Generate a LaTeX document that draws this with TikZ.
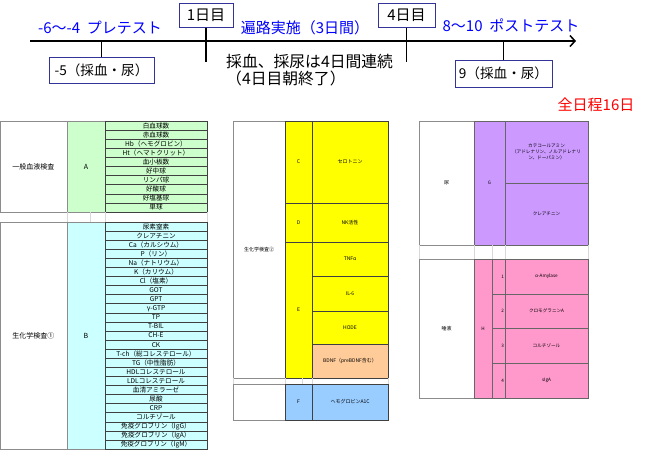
\documentclass[tikz,border=0pt]{standalone}
\usepackage{fontspec}
\setmainfont{Noto Sans CJK JP}
\usetikzlibrary{arrows.meta}
\definecolor{navy}{HTML}{333399}
\definecolor{tblue}{HTML}{0000FF}
\definecolor{tred}{HTML}{FF0000}
\definecolor{cgreen}{HTML}{CCFFCC}
\definecolor{ccyan}{HTML}{CCFFFF}
\definecolor{cyellow}{HTML}{FFFF00}
\definecolor{cpeach}{HTML}{FFCC99}
\definecolor{cblue}{HTML}{99CCFF}
\definecolor{cpurple}{HTML}{CC99FF}
\definecolor{cpink}{HTML}{FF99CC}
\definecolor{gridgrey}{HTML}{8C8C8C}
\definecolor{lightgrid}{HTML}{D8D8D8}
\definecolor{darkline}{HTML}{404040}
\newcommand{\cellbox}[7]{%
  \node[#6, minimum width={#4-#2}, minimum height={#5-#3}] (#1) at ({(#2+#4)/2},{(#3+#5)/2}) {#7};}
\tikzset{
  base/.style={inner sep=0pt, outer sep=0pt, rectangle, text=black},
  labL/.style={base, draw=gridgrey, line width=0.6pt, fill=white, font=\fontsize{7}{8}\selectfont},
  grpL/.style={base, draw=gridgrey, line width=0.6pt, font=\fontsize{7}{8}\selectfont},
  itemL/.style={base, draw=darkline, line width=0.5pt, font=\fontsize{6.6}{7}\selectfont},
  labM/.style={base, draw=gridgrey, line width=0.6pt, fill=white, font=\fontsize{5}{6}\selectfont},
  cellM/.style={base, draw=darkline, line width=0.5pt, font=\fontsize{5}{6}\selectfont},
  cellR/.style={base, draw=darkline!80, line width=0.5pt, font=\fontsize{4.6}{5.6}\selectfont},
  gap/.style={lightgrid, line width=0.5pt},
  daybox/.style={draw=navy, line width=1pt, fill=white, inner sep=1pt, font=\fontsize{15}{17}\selectfont},
  evbox/.style={draw=navy, line width=1pt, fill=white, inner sep=1pt, font=\fontsize{13.6}{16}\selectfont},
  bluetxt/.style={text=tblue, inner sep=0pt, font=\fontsize{15}{17}\selectfont},
  tick/.style={line width=1.5pt, black},
}
\begin{document}
\begin{tikzpicture}[x=1pt,y=-1pt]
\useasboundingbox (0,0) rectangle (650,451);
% ---------------- timeline ----------------
\coordinate (tl0) at (30,41);
\coordinate (tl1) at (576,41);
\draw[tick, -{Straight Barb[length=5pt,width=11pt,line width=1.5pt]}] (tl0) -- (tl1);
\node[daybox, minimum width=54, minimum height=24] (d1) at (206,15) {1日目};
\node[daybox, minimum width=57, minimum height=24] (d4) at (406.5,15) {4日目};
\node[evbox, minimum width=105, minimum height=26] (p5) at (101.5,70) {-5（採血・尿）};
\node[evbox, minimum width=97, minimum height=27] (p9) at (503.5,73.5) {9（採血・尿）};
\coordinate (d1end) at (d1.south |- 0,62);
\coordinate (d4end) at (d4.south |- 0,62);
\draw[tick] (d1.south) -- (d1end);
\draw[tick] (d4.south) -- (d4end);
\draw[tick] (p5.north) -- (p5.north |- tl0);
\draw[tick] (p9.north) -- (p9.north |- tl0);
\node[bluetxt] (pre) at (100,28) {-6～-4\ \ プレテスト};
\node[bluetxt] (henro) at (305,28) {遍路実施（3日間）};
\node[bluetxt] (post) at (511,25) {8～10\ \ ポストテスト};
\node[anchor=west, align=left, inner sep=0pt, font=\fontsize{15.8}{17}\selectfont] (note) at (226,70.5) {採血、採尿は4日間連続\\（4日目朝終了）};
\node[text=tred, inner sep=0pt, font=\fontsize{15}{17}\selectfont] (total) at (596,105) {全日程16日};
% ---------------- left table 1 ----------------
\cellbox{lab1}{0}{121}{67}{212}{labL}{一般血液検査}
\cellbox{grpA}{67}{121}{105}{212}{grpL, fill=cgreen}{A}
\foreach \t [count=\i] in {白血球数,赤血球数,Hb（ヘモグロビン）,Ht（ヘマトクリット）,血小板数,好中球,リンパ球,好酸球,好塩基球,単球}{
  \pgfmathsetmacro\ya{121+(\i-1)*9.1}
  \pgfmathsetmacro\yb{\ya+9.1}
  \cellbox{a\i}{105}{\ya}{207}{\yb}{itemL, fill=cgreen}{\t}
}
% gap row
\draw[gap] (0,222) -- (207,222);
\foreach \gx in {67,90,105,207}{ \draw[gap] (\gx,212) -- (\gx,222); }
% ---------------- left table 2 ----------------
\cellbox{lab2}{0}{222}{67}{449}{labL}{生化学検査①}
\cellbox{grpB}{67}{222}{105}{449}{grpL, fill=ccyan}{B}
\foreach \t [count=\i] in {尿素窒素,クレアチニン,Ca（カルシウム）,P（リン）,Na（ナトリウム）,K（カリウム）,Cl（塩素）,GOT,GPT,γ-GTP,TP,T-BIL,CH-E,CK,T-ch（総コレステロール）,TG（中性脂肪）,HDLコレステロール,LDLコレステロール,血清アミラーゼ,尿酸,CRP,コルチゾール,免疫グロブリン（IgG）,免疫グロブリン（IgA）,免疫グロブリン（IgM）}{
  \pgfmathsetmacro\ya{222+(\i-1)*9.08}
  \pgfmathsetmacro\yb{\ya+9.08}
  \cellbox{b\i}{105}{\ya}{207}{\yb}{itemL, fill=ccyan}{\t}
}
% ---------------- middle table ----------------
\cellbox{lab3}{233}{121}{285}{378}{labM}{生化学検査②}
\cellbox{grpC}{285}{121}{312}{203}{cellM, fill=cyellow}{C}
\cellbox{grpD}{285}{203}{312}{242}{cellM, fill=cyellow}{D}
\cellbox{grpE}{285}{242}{312}{378}{cellM, fill=cyellow}{E}
\cellbox{c1}{312}{121}{388}{203}{cellM, fill=cyellow}{セロトニン}
\cellbox{d1c}{312}{203}{388}{242}{cellM, fill=cyellow}{NK活性}
\cellbox{e1}{312}{242}{388}{276}{cellM, fill=cyellow}{TNFα}
\cellbox{e2}{312}{276}{388}{311}{cellM, fill=cyellow}{IL-6}
\cellbox{e3}{312}{311}{388}{344}{cellM, fill=cyellow}{HODE}
\cellbox{e4}{312}{344}{388}{378}{cellM, fill=cpeach}{BDNF（preBDNF含む）}
\draw[gap] (233,384) -- (388,384);
\foreach \gx in {233,285,302,312,388}{ \draw[gap] (\gx,378) -- (\gx,384); }
\cellbox{lab4}{233}{384}{285}{420}{labM}{}
\cellbox{grpF}{285}{384}{312}{420}{cellM, fill=cblue}{F}
\cellbox{f1}{312}{384}{388}{420}{cellM, fill=cblue}{ヘモグロビンA1C}
% ---------------- right tables ----------------
\cellbox{lab5}{419}{121}{474}{245}{labM}{尿}
\cellbox{grpG}{474}{121}{505}{245}{cellR, fill=cpurple}{G}
\cellbox{g1}{505}{121}{588}{183}{cellR, fill=cpurple, align=center}{カテコールアミン\\（アドレナリン、ノルアドレナリ\\ン、ドーパミン）}
\cellbox{g2}{505}{183}{588}{245}{cellR, fill=cpurple}{クレアチニン}
\draw[gap] (419,259) -- (588,259);
\foreach \gx in {419,474,492,505,588}{ \draw[gap] (\gx,245) -- (\gx,259); }
\cellbox{lab6}{419}{259}{474}{398}{labM}{唾液}
\cellbox{grpH}{474}{259}{492}{398}{cellR, fill=cpink}{H}
\foreach \t [count=\i] in {α-Amylase,クロモグラニンA,コルチゾール,sIgA}{
  \pgfmathsetmacro\ya{259+(\i-1)*34.75}
  \pgfmathsetmacro\yb{\ya+34.75}
  \cellbox{hn\i}{492}{\ya}{505}{\yb}{cellR, fill=cpink}{}
  \node[anchor=east, inner sep=0pt, font=\fontsize{4.6}{5.6}\selectfont] (hnum\i) at (504,{(\ya+\yb)/2}) {\i};
  \cellbox{h\i}{505}{\ya}{588}{\yb}{cellR, fill=cpink}{\t}
}
\end{tikzpicture}
\end{document}
